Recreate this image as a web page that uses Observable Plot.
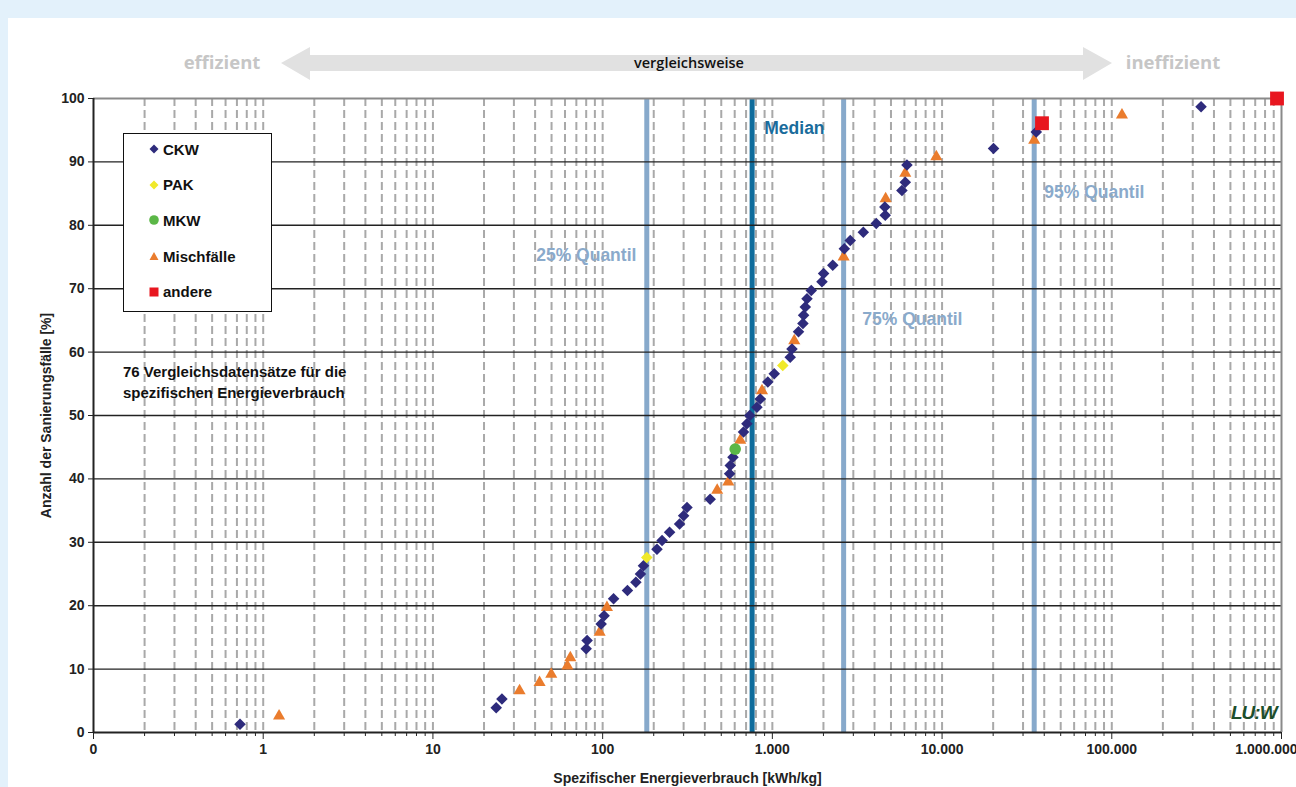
<!DOCTYPE html>
<html>
<head>
<meta charset="utf-8">
<script src="https://cdn.jsdelivr.net/npm/d3@7"></script>
<script src="https://cdn.jsdelivr.net/npm/@observablehq/plot@0.6"></script>
<style>
html,body{margin:0;padding:0;}
body{width:1296px;height:787px;background:#e3f1fb;position:relative;overflow:hidden;font-family:"Liberation Sans",Arial,sans-serif;}
#panel{position:absolute;left:8px;top:18px;width:1288px;height:769px;background:#fff;}
#chart{position:absolute;left:0;top:0;}
#chart svg text{font-weight:bold;}
#arrow{position:absolute;left:0;top:0;}
#legend{position:absolute;left:123px;top:133px;width:149px;height:179px;box-sizing:border-box;border:1px solid #111;background:#fff;}
.entry{position:absolute;left:0;height:20px;display:flex;align-items:center;font-weight:bold;font-size:15px;color:#111;}
.entry svg{margin-left:25px;margin-right:4px;}
#note{position:absolute;left:123px;top:361px;font-weight:bold;font-size:15px;line-height:21px;color:#111;}
#logo{position:absolute;left:1231px;top:702px;font-weight:900;font-style:italic;font-size:19px;color:#1c4e2b;letter-spacing:-1px;}
</style>
</head>
<body>
<div id="panel"></div>
<div id="chart"></div>
<svg id="arrow" width="1296" height="100">
  <polygon points="281,63 310,47 310,55 1083,55 1083,47 1112,63 1083,80 1083,71 310,71 310,80" fill="#e1e1e1"/>
  <text x="222" y="69" text-anchor="middle" font-family="Open Sans, Liberation Sans, sans-serif" font-weight="700" font-size="18.5" fill="#c6c6c6">effizient</text>
  <text x="1173" y="69" text-anchor="middle" font-family="Open Sans, Liberation Sans, sans-serif" font-weight="700" font-size="18.5" fill="#c6c6c6">ineffizient</text>
  <text x="689" y="68" text-anchor="middle" font-family="Open Sans, Liberation Sans, sans-serif" font-weight="600" font-size="14.5" fill="#111">vergleichsweise</text>
</svg>
<div id="legend"></div>
<div id="note">76 Vergleichsdatensätze für die<br>spezifischen Energieverbrauch</div>
<div id="logo">LU:W</div>
<script>
// ---------------- data ----------------
const categories = ["CKW", "PAK", "MKW", "Mischfälle", "andere"];

const xValues = [
  0.73, 1.24, 23.6, 25.5, 32.4, 42.5, 49.8, 62, 64.5, 80,
  81, 96, 98, 102, 106, 116, 140, 157, 167, 174,
  182, 209, 224, 248, 284, 300, 314, 430, 473, 550,
  560, 565, 586, 604, 647, 676, 708, 736, 811, 849,
  869, 940, 1026, 1152, 1274, 1305, 1346, 1426, 1514, 1528,
  1563, 1600, 1695, 1960, 2004, 2270, 2630, 2655, 2877, 3435,
  4095, 4625, 4600, 4650, 5800, 6070, 6070, 6210, 9250, 20100,
  34900, 35900, 38800, 114800, 335700, 941000
];

const yValues = [
  1.3, 2.6, 3.9, 5.3, 6.6, 7.9, 9.2, 10.5, 11.8, 13.2,
  14.5, 15.8, 17.1, 18.4, 19.7, 21.1, 22.4, 23.7, 25.0, 26.3,
  27.6, 28.9, 30.3, 31.6, 32.9, 34.2, 35.5, 36.8, 38.2, 39.5,
  40.8, 42.1, 43.4, 44.7, 46.1, 47.4, 48.7, 50.0, 51.3, 52.6,
  53.9, 55.3, 56.6, 57.9, 59.2, 60.5, 61.8, 63.2, 64.5, 65.8,
  67.1, 68.4, 69.7, 71.1, 72.4, 73.7, 75.0, 76.3, 77.6, 78.9,
  80.3, 81.6, 82.9, 84.2, 85.5, 86.8, 88.2, 89.5, 90.8, 92.1,
  93.4, 94.7, 96.1, 97.4, 98.7, 100
];

const types = [
  "CKW", "Mischfälle", "CKW", "CKW", "Mischfälle", "Mischfälle", "Mischfälle", "Mischfälle", "Mischfälle", "CKW",
  "CKW", "Mischfälle", "CKW", "CKW", "Mischfälle", "CKW", "CKW", "CKW", "CKW", "CKW",
  "PAK", "CKW", "CKW", "CKW", "CKW", "CKW", "CKW", "CKW", "Mischfälle", "Mischfälle",
  "CKW", "CKW", "CKW", "MKW", "Mischfälle", "CKW", "CKW", "CKW", "CKW", "CKW",
  "Mischfälle", "CKW", "CKW", "PAK", "CKW", "CKW", "Mischfälle", "CKW", "CKW", "CKW",
  "CKW", "CKW", "CKW", "CKW", "CKW", "CKW", "Mischfälle", "CKW", "CKW", "CKW",
  "CKW", "CKW", "CKW", "Mischfälle", "CKW", "CKW", "Mischfälle", "CKW", "Mischfälle", "CKW",
  "Mischfälle", "CKW", "andere", "Mischfälle", "CKW", "andere"
];

const quantileLabels = ["25% Quantil", "Median", "75% Quantil", "95% Quantil"];
const quantileValues = [182, 760, 2630, 34900];
const quantileLabelX = [158, 896, 3388, 40000];
const quantileLabelY = [75.2, 95.3, 65.1, 85.2];

const xTickValues = [0.1, 1, 10, 100, 1000, 10000, 100000, 1000000];
const xTickLabels = ["0", "1", "10", "100", "1.000", "10.000", "100.000", "1.000.000"];
const yTickValues = [0, 10, 20, 30, 40, 50, 60, 70, 80, 90, 100];

// ---------------- styles ----------------
const style = {
  "CKW":        {symbol: "diamond2", fill: "#2e2b7c", r: 5.2},
  "PAK":        {symbol: "diamond2", fill: "#f0e92a", r: 5.2},
  "MKW":        {symbol: "circle",   fill: "#5bb747", r: 5.8},
  "Mischfälle": {symbol: "triangle", fill: "#ea7c2d", r: 4.5},
  "andere":     {symbol: "square",   fill: "#e8161f", r: 7.8}
};

const data = xValues.map((x, i) => ({x, y: yValues[i], type: types[i]}));
const qdata = quantileLabels.map((t, i) => ({t, q: quantileValues[i], lx: quantileLabelX[i], ly: quantileLabelY[i]}));

// log grid positions (1..9 × each decade)
const gridX = [];
const minorTicks = [];
for (let e = -1; e < 6; e++) {
  for (let m = 1; m <= 9; m++) {
    const v = +(m * Math.pow(10, e)).toPrecision(6);
    if (!(e === -1 && m === 1)) gridX.push(v);
    if (m > 1) minorTicks.push(v);
  }
}
const gridY = yTickValues.filter(v => v > 0 && v < 100);
const lastTick = xTickValues[xTickValues.length - 1];
const fmt = d => { const i = xTickValues.indexOf(d); return i >= 0 ? xTickLabels[i] : ""; };
const fmtMain = d => d === lastTick ? "" : fmt(d);

const drawOrder = ["Mischfälle", "CKW", "PAK", "MKW", "andere"];

const chart = Plot.plot({
  width: 1296,
  height: 787,
  marginLeft: 93,
  marginRight: 15,
  marginTop: 98,
  marginBottom: 55,
  style: {background: "transparent", fontFamily: "'Liberation Sans', Arial, sans-serif", fontSize: "14px", fontWeight: "bold", overflow: "visible"},
  x: {type: "log", domain: [0.1, 1000000], label: null},
  y: {domain: [0, 100], label: null},
  marks: [
    Plot.ruleX(gridX, {stroke: "#a9a9a9", strokeWidth: 2, strokeDasharray: "8,4"}),
    Plot.ruleX(qdata.filter(d => d.t !== "Median"), {x: "q", stroke: "#87a9cb", strokeWidth: 5}),
    Plot.ruleX(qdata.filter(d => d.t === "Median"), {x: "q", stroke: "#0f6c9c", strokeWidth: 5}),
    Plot.ruleY(gridY, {stroke: "#222", strokeWidth: 1.4}),
    Plot.ruleY([100], {stroke: "#8a8a8a", strokeWidth: 2}),
    Plot.ruleX([1000000], {stroke: "#8a8a8a", strokeWidth: 2}),
    Plot.ruleX([0.1], {stroke: "#222", strokeWidth: 2}),
    Plot.ruleY([0], {stroke: "#222", strokeWidth: 2}),
    Plot.axisX(minorTicks, {tickSize: 4, tickFormat: () => "", stroke: "#222", label: null}),
    Plot.axisX(xTickValues, {tickSize: 7, tickPadding: 5, tickFormat: fmtMain, fill: "#222", stroke: "#222", fontSize: 14, fontWeight: "bold",
      label: "Spezifischer Energieverbrauch [kWh/kg]", labelAnchor: "center", labelOffset: 50, labelArrow: "none"}),
    Plot.text([lastTick], {x: d => d, text: fmt, frameAnchor: "bottom", lineAnchor: "top", dy: 12, dx: -15, fill: "#222", fontSize: 14, fontWeight: "bold"}),
    Plot.axisY(yTickValues, {tickSize: 5, tickPadding: 4, fill: "#222", stroke: "#222", fontSize: 14, fontWeight: "bold",
      label: "Anzahl der Sanierungsfälle [%]", labelAnchor: "center", labelOffset: 52, labelArrow: "none"}),
    ...drawOrder.map(c => Plot.dot(data.filter(d => d.type === c), {x: "x", y: "y", symbol: style[c].symbol, fill: style[c].fill, r: style[c].r})),
    Plot.text(qdata.filter(d => d.t.startsWith("25")), {x: "lx", y: "ly", text: "t", textAnchor: "end", fill: "#8aaacb", fontSize: 17.5, fontWeight: "bold"}),
    Plot.text(qdata.filter(d => d.t === "Median"), {x: "lx", y: "ly", text: "t", textAnchor: "start", fill: "#1a6c9c", fontSize: 17.5, fontWeight: "bold"}),
    Plot.text(qdata.filter(d => !d.t.startsWith("25") && d.t !== "Median"), {x: "lx", y: "ly", text: "t", textAnchor: "start", fill: "#8aaacb", fontSize: 17.5, fontWeight: "bold"})
  ]
});
document.getElementById("chart").appendChild(chart);

// ---------------- legend ----------------
const legend = document.getElementById("legend");
const sym = {
  "CKW": `<polygon points="5,0.5 9.5,5 5,9.5 0.5,5" fill="${style.CKW.fill}"/>`,
  "PAK": `<polygon points="5,0.5 9.5,5 5,9.5 0.5,5" fill="${style.PAK.fill}"/>`,
  "MKW": `<circle cx="5" cy="5" r="4.8" fill="${style.MKW.fill}"/>`,
  "Mischfälle": `<polygon points="5,1 9.5,9 0.5,9" fill="${style["Mischfälle"].fill}"/>`,
  "andere": `<rect x="0.5" y="0.5" width="9" height="9" fill="${style.andere.fill}"/>`
};
categories.forEach((c, i) => {
  const div = document.createElement("div");
  div.className = "entry";
  div.style.top = (5 + i * 35.7) + "px";
  div.innerHTML = `<svg width="10" height="10">${sym[c]}</svg><span>${c}</span>`;
  legend.appendChild(div);
});
</script>
</body>
</html>
